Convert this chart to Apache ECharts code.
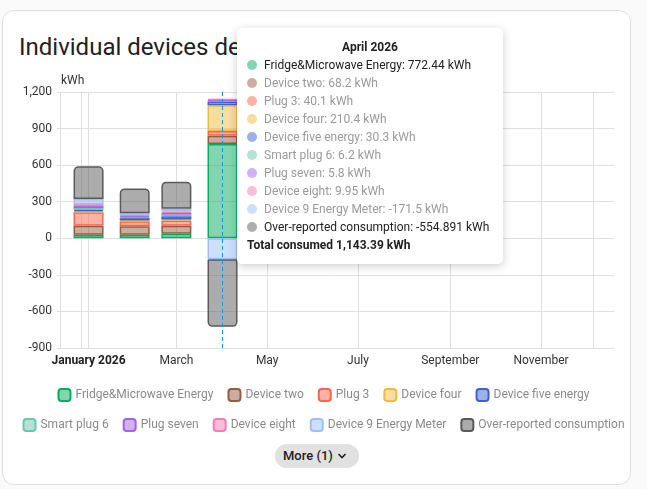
<!DOCTYPE html>
<html>
<head>
<meta charset="utf-8">
<script src="https://cdn.jsdelivr.net/npm/echarts@6/dist/echarts.min.js"></script>
<style>
html,body{margin:0;padding:0;width:647px;height:489px;overflow:hidden;background:#fafafa;font-family:Roboto,"Noto Sans",sans-serif;}
.prev{position:absolute;left:2px;top:-30px;width:627px;height:30px;background:#fff;border:1px solid #e0e0e0;border-radius:12px;box-sizing:border-box;}
.card{position:absolute;left:2px;top:10px;width:629px;height:475px;background:#fff;border:1px solid #e0e0e0;border-radius:12px;box-sizing:border-box;}
.title{position:absolute;left:19px;top:31px;font-size:24px;line-height:32px;color:#212121;font-weight:400;white-space:nowrap;}
#chart{position:absolute;left:0;top:0;width:647px;height:489px;}
.more{position:absolute;left:275px;top:444px;width:84px;height:24px;border-radius:12px;background:#e1e1e1;color:#212121;font-size:13px;font-weight:500;line-height:24px;box-sizing:border-box;padding-left:8px;white-space:nowrap;}
.more svg{position:absolute;left:62px;top:7px;}
</style>
</head>
<body>
<div class="prev"></div>
<div class="card"></div>
<div class="title">Individual devices detail usage</div>
<div id="chart"></div>
<div class="more">More (1)<svg width="10" height="10" viewBox="0 0 10 10"><path d="M1.5 3 L5 6.5 L8.5 3" fill="none" stroke="#212121" stroke-width="1.6"/></svg></div>
<script>
// ---- data ----
const months = ['2026-01', '2026-02', '2026-03', '2026-04'];
const seriesNames = [
  'Fridge&Microwave Energy',
  'Device two',
  'Plug 3',
  'Device four',
  'Device five energy',
  'Smart plug 6',
  'Plug seven',
  'Device eight',
  'Device 9 Energy Meter',
  'Over-reported consumption'
];
const fridgeMicrowave = [30, 30, 38, 772.44];
const device2 = [73, 68, 65, 68.2];
const device3 = [111, 41, 43, 40.1];
const device4 = [8, 8, 8, 210.4];
const device5 = [10, 19, 27, 30.3];
const device6 = [16, 8, 14, 6.2];
const device7 = [16, 8, 14, 5.8];
const device8 = [16, 8, 11, 9.95];
const device9 = [43, 16, 22, -171.5];
const overReported = [268, 203, 222, -554.891];
const yTicks = [-900, -600, -300, 0, 300, 600, 900, 1200];
const xLabelDates = ['2026-01-01', '2026-03-01', '2026-05-01', '2026-07-01', '2026-09-01', '2026-11-01'];
// vertical grid line dates (days relative to 2026-01-01)
const xGridDays = [-18.8, -5, 0, 59, 120, 181, 243, 304, 339];
const xRangeDays = [-21.2, 353];

// ---- styles ----
const baseColors = ['#04ae60', '#955c40', '#fb654d', '#f3bb3d', '#3d61cf', '#69c7ad', '#a561e9', '#f77bb7', '#9bc1f7', '#5a5a5a'];
const allValues = [fridgeMicrowave, device2, device3, device4, device5, device6, device7, device8, device9, overReported];

function parseDate(s) { const p = s.split('-').map(Number); return new Date(p[0], p[1] - 1, p[2] || 1).getTime(); }
const DAY = 86400000;
const jan1 = parseDate('2026-01-01');
function mix(hex) {
  const n = parseInt(hex.slice(1), 16);
  const r = Math.round(((n >> 16) & 255) / 2 + 127.5), g = Math.round(((n >> 8) & 255) / 2 + 127.5), b = Math.round((n & 255) / 2 + 127.5);
  return 'rgb(' + r + ',' + g + ',' + b + ')';
}
const monthTs = months.map(parseDate);
const fmt = (v, d) => v.toLocaleString('en-US', { maximumFractionDigits: d });
const xMin = jan1 + xRangeDays[0] * DAY, xMax = jan1 + xRangeDays[1] * DAY;

// data items are [value, time] so the value (y) dimension is the stacked one
const series = seriesNames.map((name, i) => ({
  name: name,
  type: 'bar',
  stack: 'devices',
  barWidth: 30,
  encode: { x: 1, y: 0 },
  itemStyle: { color: baseColors[i] + '80', borderColor: baseColors[i], borderWidth: 1.5 },
  emphasis: { disabled: true },
  data: allValues[i].map((v, k) => {
    const item = { value: [v, monthTs[k]] };
    if (i === allValues.length - 1) item.itemStyle = { borderRadius: v >= 0 ? [4, 4, 0, 0] : [0, 0, 4, 4] };
    return item;
  })
}));

const chart = echarts.init(document.getElementById('chart'), null, { renderer: 'canvas' });
const legendBase = {
  left: 'center', width: 640, itemWidth: 12, itemHeight: 12, itemGap: 14, icon: 'roundRect',
  textStyle: { fontFamily: 'Roboto', fontSize: 12, color: '#8a8a8a' },
  selectedMode: false
};
chart.setOption({
  animation: false,
  textStyle: { fontFamily: 'Roboto' },
  grid: { left: 57, right: 33, top: 92, bottom: 141, outerBoundsMode: 'none' },
  legend: [
    Object.assign({}, legendBase, { top: 383, data: seriesNames.slice(0, 5) }),
    Object.assign({}, legendBase, { top: 413, data: seriesNames.slice(5) })
  ],
  tooltip: {
    trigger: 'axis',
    triggerOn: 'none',
    alwaysShowContent: true,
    position: [237, 28],
    padding: [10, 10, 10, 10],
    backgroundColor: '#fff',
    borderWidth: 0,
    extraCssText: 'box-shadow:0 2px 10px rgba(0,0,0,0.2);border-radius:5px;width:246px;',
    axisPointer: { type: 'line', lineStyle: { color: '#039be5', type: [4, 3], width: 1 } },
    formatter: function (params) {
      const k = params[0].dataIndex;
      const d = new Date(monthTs[k]);
      let h = '<div style="font-family:Roboto;font-size:12px;color:#212121;">';
      h += '<div style="text-align:center;font-weight:700;line-height:18px;">' + d.toLocaleString('en-US', { month: 'long', year: 'numeric' }) + '</div>';
      let total = 0;
      seriesNames.forEach((name, i) => {
        const v = allValues[i][k];
        if (i < seriesNames.length - 1 && v > 0) total += v;
        const faded = i > 0 && i < seriesNames.length - 1;
        h += '<div style="line-height:18px;white-space:nowrap;' + (faded ? 'color:#9a9a9a;' : '') + '">' +
          '<span style="display:inline-block;width:10px;height:10px;border-radius:50%;background:' + mix(baseColors[i]) + ';margin-right:7px;vertical-align:-1px;"></span>' +
          name + ': ' + fmt(v, 3) + ' kWh</div>';
      });
      h += '<div style="line-height:18px;font-weight:700;">Total consumed ' + fmt(total, 2) + ' kWh</div></div>';
      return h;
    }
  },
  xAxis: {
    type: 'value',
    min: xMin,
    max: xMax,
    position: 'bottom',
    axisLine: { show: false },
    axisTick: { show: false, customValues: xGridDays.map(d => jan1 + d * DAY) },
    splitLine: { show: true, lineStyle: { color: '#e0e0e0', width: 1 } },
    axisPointer: { label: { show: false } },
    axisLabel: {
      customValues: xLabelDates.map(parseDate),
      hideOverlap: false,
      margin: 7,
      color: '#333',
      fontSize: 12,
      formatter: function (v) {
        const d = new Date(v);
        if (d.getMonth() === 0) return '{b|' + d.toLocaleString('en-US', { month: 'long', year: 'numeric' }) + '}';
        return d.toLocaleString('en-US', { month: 'long' });
      },
      rich: { b: { fontWeight: 'bold', fontSize: 12, color: '#212121' } }
    }
  },
  yAxis: {
    type: 'value',
    min: yTicks[0],
    max: yTicks[yTicks.length - 1],
    interval: yTicks[1] - yTicks[0],
    name: 'kWh',
    nameGap: 5,
    nameTextStyle: { align: 'left', color: '#333', fontSize: 12, padding: [0, 0, 0, 4] },
    axisLine: { show: false },
    axisTick: { show: false },
    axisLabel: { color: '#333', fontSize: 12, margin: 5, formatter: v => v.toLocaleString('en-US') },
    splitLine: { lineStyle: { color: '#e0e0e0', width: 1 } }
  },
  series: series
});
chart.dispatchAction({ type: 'showTip', seriesIndex: 0, dataIndex: 3 });
setTimeout(() => chart.dispatchAction({ type: 'showTip', seriesIndex: 0, dataIndex: 3 }), 50);
</script>
</body>
</html>
